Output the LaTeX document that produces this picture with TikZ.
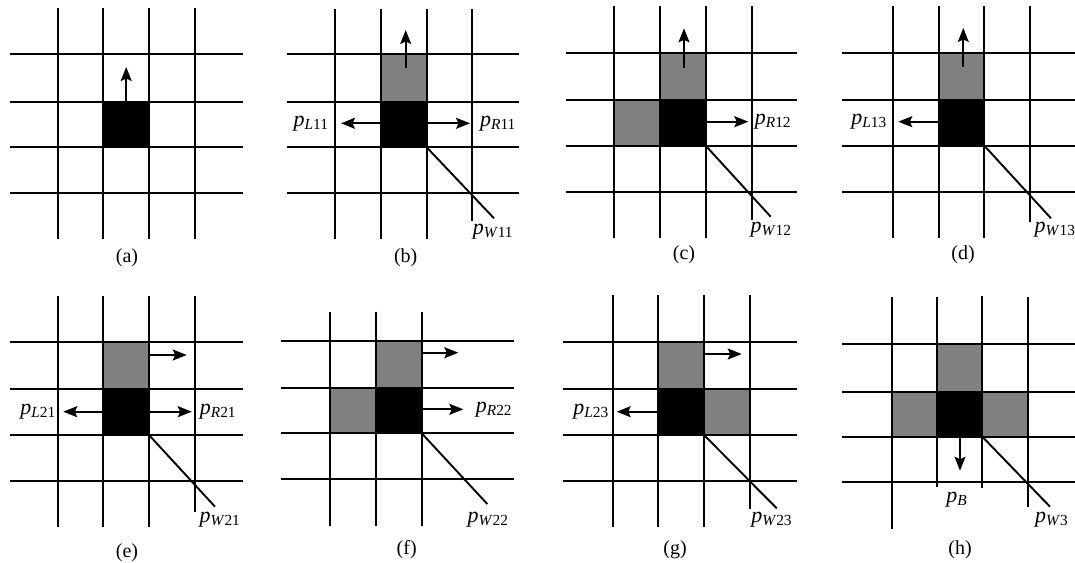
\documentclass[tikz,border=0pt]{standalone}
\usepackage{fontspec}
\setmainfont{Liberation Serif}
\usetikzlibrary{arrows.meta}
\newcommand{\plab}[2]{\textit{p}\textsubscript{\textit{#1}#2}}
\begin{document}
\begin{tikzpicture}[x=1pt,y=-1pt,
  gl/.style={line width=1.9pt},
  arr/.style={line width=1.7pt,-{Stealth[length=14pt,width=11pt,inset=2.5pt]}},
  lab/.style={inner sep=0pt,font=\fontsize{22}{22}\selectfont},
  captxt/.style={inner sep=0pt,font=\fontsize{20}{20}\selectfont},
  grayc/.style={fill=black!50},
  blk/.style={fill=black}]
\useasboundingbox (0,0) rectangle (1075,562);
% ---------- (a)
\fill[blk] (103.3,101.7) rectangle (149,147.3);
\foreach \x in {58.3,103.3,149,195} \draw[gl] (\x,8) -- (\x,239);
\foreach \y in {54,101.7,147.3,193.3} \draw[gl] (10,\y) -- (243,\y);
\coordinate (a0) at (126.2,101.7); \coordinate (a1) at (126.2,67);
\draw[arr] (a0) -- (a1);
\node[captxt] (ca) at (127,258) {(a)};
% ---------- (b)
\fill[grayc] (380.7,54.3) rectangle (426.7,101.7);
\fill[blk] (380.7,101.7) rectangle (426.7,147.3);
\foreach \x in {335,380.7,426.7} \draw[gl] (\x,9) -- (\x,239);
\draw[gl] (472.3,9) -- (472.3,220.7);
\foreach \y in {54.3,101.7,147.3,193.3} \draw[gl] (286.7,\y) -- (519.3,\y);
\coordinate (b0) at (405.7,68); \coordinate (b1) at (405.7,30);
\draw[arr] (b0) -- (b1);
\node[lab] (pL11) at (311,123.3) {\plab{L}{11}};
\node[lab] (pR11) at (498,123.3) {\plab{R}{11}};
\coordinate (bl) at (380.7,123.3); \coordinate (blt) at (341,123.3);
\coordinate (br) at (426.7,123.3); \coordinate (brt) at (470,123.3);
\draw[arr] (bl) -- (blt);
\draw[arr] (br) -- (brt);
\coordinate (bd0) at (426.7,147.3); \coordinate (bd1) at (494,218.3);
\draw[gl] (bd0) -- (bd1);
\node[lab] (pW11) at (493,231.7) {\plab{W}{11}};
\node[captxt] (cb) at (405.7,258) {(b)};
% ---------- (c)
\fill[grayc] (660,52.7) rectangle (705.7,100);
\fill[grayc] (614,100) rectangle (660,145.7);
\fill[blk] (660,100) rectangle (705.7,145.7);
\foreach \x in {614,660,705.7} \draw[gl] (\x,6) -- (\x,238.3);
\draw[gl] (751.7,6) -- (751.7,220);
\foreach \y in {52.7,100,145.7,191.7} \draw[gl] (566,\y) -- (797.3,\y);
\coordinate (c0) at (684,67.7); \coordinate (c1) at (684,28.3);
\draw[arr] (c0) -- (c1);
\node[lab] (pR12) at (773,121.7) {\plab{R}{12}};
\coordinate (cr) at (705.7,121.7); \coordinate (crt) at (748.3,121.7);
\draw[arr] (cr) -- (crt);
\coordinate (cd0) at (705.7,145.7); \coordinate (cd1) at (770.7,216.7);
\draw[gl] (cd0) -- (cd1);
\node[lab] (pW12) at (771,230) {\plab{W}{12}};
\node[captxt] (cc) at (684,255) {(c)};
% ---------- (d)
\fill[grayc] (939,52.7) rectangle (984.3,100);
\fill[blk] (939,100) rectangle (984.3,145.7);
\foreach \x in {893.3,939,984.3} \draw[gl] (\x,6) -- (\x,238.3);
\draw[gl] (1030,6) -- (1030,221.7);
\foreach \y in {52.7,100,145.7,191.7} \draw[gl] (842.3,\y) -- (1075,\y);
\coordinate (d0) at (963.3,67); \coordinate (d1) at (963.3,28);
\draw[arr] (d0) -- (d1);
\node[lab] (pL13) at (869,121.7) {\plab{L}{13}};
\coordinate (dl) at (939,121.7); \coordinate (dlt) at (898.3,121.7);
\draw[arr] (dl) -- (dlt);
\coordinate (dd0) at (984.3,145.7); \coordinate (dd1) at (1051,218.3);
\draw[gl] (dd0) -- (dd1);
\node[lab] (pW13) at (1055,230) {\plab{W}{13}};
\node[captxt] (cd) at (963,255) {(d)};
% ---------- (e)
\fill[grayc] (103.3,342.3) rectangle (149,389.3);
\fill[blk] (103.3,389.3) rectangle (149,435);
\foreach \x in {58.3,103.3,149} \draw[gl] (\x,296) -- (\x,527.3);
\draw[gl] (195,296) -- (195,511.7);
\foreach \y in {342.3,389.3,435,481} \draw[gl] (10,\y) -- (242.7,\y);
\coordinate (e0) at (149,355); \coordinate (e1) at (186.7,355);
\draw[arr] (e0) -- (e1);
\node[lab] (pL21) at (38,411.7) {\plab{L}{21}};
\node[lab] (pR21) at (218,411.7) {\plab{R}{21}};
\coordinate (el) at (103.3,411.7); \coordinate (elt) at (63.3,411.7);
\coordinate (er) at (149,411.7); \coordinate (ert) at (191.7,411.7);
\draw[arr] (el) -- (elt);
\draw[arr] (er) -- (ert);
\coordinate (ed0) at (149,435); \coordinate (ed1) at (215,506.7);
\draw[gl] (ed0) -- (ed1);
\node[lab] (pW21) at (220,520) {\plab{W}{21}};
\node[captxt] (ce) at (127,553) {(e)};
% ---------- (f)
\fill[grayc] (375.7,340.7) rectangle (421.7,387.7);
\fill[grayc] (330,387.7) rectangle (375.7,433.3);
\fill[blk] (375.7,387.7) rectangle (421.7,433.3);
\foreach \x in {330,375.7,421.7} \draw[gl] (\x,311.7) -- (\x,526);
\foreach \y in {340.7,387.7,433.3,479.3} \draw[gl] (281,\y) -- (514.3,\y);
\coordinate (f0) at (421.7,352.7); \coordinate (f1) at (458.3,352.7);
\draw[arr] (f0) -- (f1);
\node[lab] (pR22) at (494,409.3) {\plab{R}{22}};
\coordinate (fr) at (421.7,409.3); \coordinate (frt) at (463.3,409.3);
\draw[arr] (fr) -- (frt);
\coordinate (fd0) at (421.7,433.3); \coordinate (fd1) at (487.3,504);
\draw[gl] (fd0) -- (fd1);
\node[lab] (pW22) at (488,520) {\plab{W}{22}};
\node[captxt] (cf) at (406.7,550) {(f)};
% ---------- (g)
\fill[grayc] (658.3,342.3) rectangle (704,389.3);
\fill[grayc] (704,389.3) rectangle (750,435);
\fill[blk] (658.3,389.3) rectangle (704,435);
\foreach \x in {612.7,658.3,704} \draw[gl] (\x,295) -- (\x,527.3);
\draw[gl] (750,295) -- (750,509.3);
\foreach \y in {342.3,389.3,435,481} \draw[gl] (563.3,\y) -- (797.3,\y);
\coordinate (g0) at (704,354); \coordinate (g1) at (741.7,354);
\draw[arr] (g0) -- (g1);
\node[lab] (pL23) at (591,411.7) {\plab{L}{23}};
\coordinate (gl0) at (658.3,411.7); \coordinate (glt) at (616.7,411.7);
\draw[arr] (gl0) -- (glt);
\coordinate (gd0) at (704,435); \coordinate (gd1) at (776.7,508.3);
\draw[gl] (gd0) -- (gd1);
\node[lab] (pW23) at (771.7,520) {\plab{W}{23}};
\node[captxt] (cg) at (675,550) {(g)};
% ---------- (h)
\fill[grayc] (936.7,344) rectangle (982.3,391.7);
\fill[grayc] (891.7,391.7) rectangle (936.7,436.7);
\fill[grayc] (982.3,391.7) rectangle (1028.3,436.7);
\fill[blk] (936.7,391.7) rectangle (982.3,436.7);
\draw[gl] (891.7,297.3) -- (891.7,529.3);
\draw[gl] (936.7,297) -- (936.7,486.7);
\draw[gl] (982.3,296) -- (982.3,488.3);
\draw[gl] (1028.3,297) -- (1028.3,506.7);
\foreach \y in {344,391.7,436.7,482.3} \draw[gl] (842.3,\y) -- (1075,\y);
\coordinate (h0) at (960,436.7); \coordinate (h1) at (960,470.7);
\draw[arr] (h0) -- (h1);
\node[lab] (pB) at (956.7,500) {\plab{B}{}};
\coordinate (hd0) at (982.3,436.7); \coordinate (hd1) at (1050,506.7);
\draw[gl] (hd0) -- (hd1);
\node[lab] (pW3) at (1051.7,520) {\plab{W}{3}};
\node[captxt] (ch) at (960,550) {(h)};
\end{tikzpicture}
\end{document}
